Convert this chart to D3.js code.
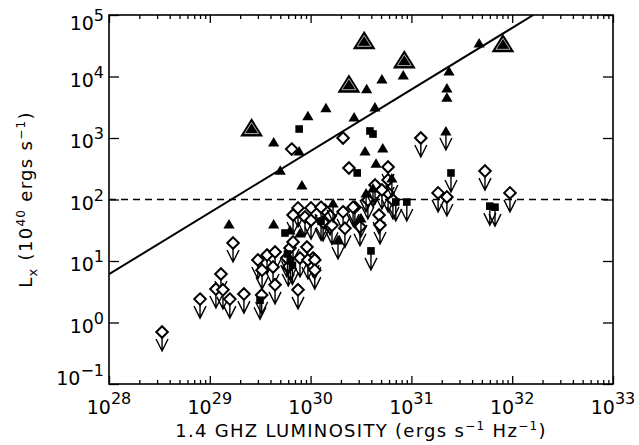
<!DOCTYPE html>
<html>
<head>
<meta charset="utf-8">
<script src="https://cdn.jsdelivr.net/npm/d3@7"></script>
<style>
body { margin: 0; background: #fff; }
svg { display: block; font-family: "DejaVu Sans", sans-serif; }
</style>
</head>
<body>
<div id="chart"></div>
<script>
// [1.4 GHz luminosity (erg/s/Hz), Lx (1e40 erg/s)]
const bigTriangles = [
    [2.6e29, 1450], [2.4e30, 7500], [3.4e30, 3.8e4], [8.5e30, 1.85e4], [8.1e31, 3.4e4]
];
const triangles = [
    [4.7e31, 3.5e4], [2.36e31, 1.23e4], [2.25e31, 6500], [2.25e31, 4600], [5.1e30, 9100],
    [8.3e30, 1.06e4], [3.6e30, 6300], [4.35e30, 3200], [2.7e30, 2200], [1.42e30, 3100],
    [9.4e29, 2300], [4.3e29, 860], [7.7e29, 615], [5.0e29, 300], [8.2e29, 172],
    [3.47e30, 615], [5.2e30, 690], [4.46e30, 390], [1.55e29, 40], [4.3e29, 40],
    [7.85e29, 28.5], [6.25e29, 32]
];
const triangleLimits = [
    [2.2e31, 1300], [1.67e30, 88], [3.55e30, 128], [4.16e30, 154], [6.4e30, 224],
    [1.87e30, 22], [3.16e30, 50]
];
const squares = [
    [7.7e29, 1400], [3.88e30, 1300], [4.16e30, 1160], [2.9e30, 270], [5.57e29, 28.5]
];
const squareLimits = [
    [2.47e31, 270], [6.0e31, 78], [6.75e31, 75], [9.0e30, 91], [7.0e30, 91],
    [3.97e30, 14.6], [3.15e29, 2.3], [5.9e29, 13], [6.3e29, 10], [6.6e29, 8.5], [1.27e30, 44]
];
const diamonds = [
    [6.5e29, 660], [2.1e30, 1000], [2.4e30, 325]
];
const diamondLimits = [
    [1.24e31, 1000], [5.37e31, 290], [9.5e31, 128], [1.84e31, 128], [2.25e31, 110],
    [5.87e30, 338], [5.87e30, 208], [4.36e30, 172], [5.87e30, 128], [6.56e30, 98],
    [2.75e30, 75], [2.1e30, 63], [1.39e30, 67], [4.78e30, 56], [2.19e30, 34],
    [1.33e30, 43], [7.5e29, 73], [1.01e30, 73], [8.8e29, 52], [6.7e29, 56],
    [9.2e29, 16.9], [1.06e30, 11.2], [6.25e29, 16.3], [6.7e29, 20.4], [5.8e29, 11.2],
    [6.0e29, 8.0], [3.0e29, 10.4], [3.7e29, 12.5], [4.44e29, 14], [3.3e29, 7.1],
    [4.24e29, 8.0], [7.85e29, 11.2], [9.4e29, 10.4], [1.1e30, 10.4], [1.1e30, 7.1],
    [4.44e29, 4.1], [7.5e29, 3.4], [1.7e29, 19.6], [1.29e29, 6.15], [1.15e29, 3.5],
    [1.35e29, 3.4], [8.0e28, 2.4], [1.58e29, 2.4], [2.18e29, 2.9], [3.36e28, 0.70],
    [3.27e29, 2.8], [1.56e30, 54], [1.27e30, 75], [2.64e30, 75], [3.7e30, 98],
    [5.1e30, 143], [1.01e30, 46], [1.63e30, 38], [3.09e30, 36], [4.88e30, 38.5]
];
const fitLine = [[1e28, 6.1], [1.62e32, 1e5]];
const thresholdLx = 100;

const xMajor = [28, 29, 30, 31, 32, 33];
const yMajor = [-1, 0, 1, 2, 3, 4, 5];

const width = 639, height = 445;
const plot = { left: 109, right: 613, top: 15, bottom: 384 };

const x = d3.scaleLog().domain([1e28, 1e33]).range([plot.left, plot.right]);
const y = d3.scaleLog().domain([0.1, 1e5]).range([plot.bottom, plot.top]);

const svg = d3.select("#chart").append("svg")
    .attr("width", width)
    .attr("height", height);

// minor ticks for x
const xMinor = [];
for (let e = 28; e < 33; e++) for (let k = 2; k <= 9; k++) xMinor.push(k * Math.pow(10, e));

function tickAxis(axis) {
    return g => { g.call(axis); g.select(".domain").remove(); g.selectAll("line").attr("stroke", "#000").attr("stroke-width", 1.3); };
}

svg.append("g").attr("transform", `translate(0,${plot.bottom})`)
    .call(tickAxis(d3.axisBottom(x).tickValues(xMajor.map(e => Math.pow(10, e))).tickSize(-8).tickFormat("")));
svg.append("g").attr("transform", `translate(0,${plot.bottom})`)
    .call(tickAxis(d3.axisBottom(x).tickValues(xMinor).tickSize(-4).tickFormat("")));
svg.append("g").attr("transform", `translate(0,${plot.top})`)
    .call(tickAxis(d3.axisTop(x).tickValues(xMajor.map(e => Math.pow(10, e))).tickSize(-8).tickFormat("")));
svg.append("g").attr("transform", `translate(0,${plot.top})`)
    .call(tickAxis(d3.axisTop(x).tickValues(xMinor).tickSize(-4).tickFormat("")));
svg.append("g").attr("transform", `translate(${plot.left},0)`)
    .call(tickAxis(d3.axisLeft(y).tickValues(yMajor.map(e => Math.pow(10, e))).tickSize(-10).tickFormat("")));
svg.append("g").attr("transform", `translate(${plot.right},0)`)
    .call(tickAxis(d3.axisRight(y).tickValues(yMajor.map(e => Math.pow(10, e))).tickSize(-10).tickFormat("")));

svg.append("rect")
    .attr("x", plot.left).attr("y", plot.top)
    .attr("width", plot.right - plot.left).attr("height", plot.bottom - plot.top)
    .attr("fill", "none").attr("stroke", "#000").attr("stroke-width", 1.6);

// tick labels
svg.append("g").selectAll("text").data(xMajor).join("text")
    .attr("x", e => x(Math.pow(10, e)))
    .attr("y", plot.bottom + 30)
    .attr("text-anchor", "middle")
    .attr("font-size", 19)
    .each(function (e) {
        const t = d3.select(this);
        t.append("tspan").text("10");
        t.append("tspan").attr("dy", -10).attr("font-size", 16).text(e);
    });

svg.append("g").selectAll("text").data(yMajor).join("text")
    .attr("x", 104)
    .attr("y", e => {
        const c = Math.min(Math.max(y(Math.pow(10, e)) + 3, plot.top + 8), plot.bottom - 6);
        return c + 7;
    })
    .attr("text-anchor", "end")
    .attr("font-size", 19)
    .each(function (e) {
        const t = d3.select(this);
        t.append("tspan").text("10");
        t.append("tspan").attr("dy", -9).attr("font-size", 16).text(e < 0 ? "\u2212" + (-e) : e);
    });

// axis titles
const xt = svg.append("text")
    .attr("x", (plot.left + plot.right) / 2)
    .attr("y", 437)
    .attr("text-anchor", "middle")
    .attr("font-size", 18)
    .attr("letter-spacing", 1.3);
xt.append("tspan").text("1.4 GHZ LUMINOSITY (ergs s");
xt.append("tspan").attr("dy", -7).attr("font-size", 12).text("\u22121");
xt.append("tspan").attr("dy", 7).text(" Hz");
xt.append("tspan").attr("dy", -7).attr("font-size", 12).text("\u22121");
xt.append("tspan").attr("dy", 7).text(")");

const yt = svg.append("text")
    .attr("transform", `translate(32,${(plot.top + plot.bottom) / 2}) rotate(-90)`)
    .attr("text-anchor", "middle")
    .attr("font-size", 18)
    .attr("letter-spacing", 1.3);
yt.append("tspan").text("L");
yt.append("tspan").attr("dy", 5).attr("font-size", 13).text("x");
yt.append("tspan").attr("dy", -5).text(" (10");
yt.append("tspan").attr("dy", -7).attr("font-size", 12).text("40");
yt.append("tspan").attr("dy", 7).text(" ergs s");
yt.append("tspan").attr("dy", -7).attr("font-size", 12).text("\u22121");
yt.append("tspan").attr("dy", 7).text(")");

// reference lines
svg.append("clipPath").attr("id", "plotclip").append("rect")
    .attr("x", plot.left).attr("y", plot.top)
    .attr("width", plot.right - plot.left).attr("height", plot.bottom - plot.top);

svg.append("line")
    .attr("x1", plot.left).attr("x2", plot.right)
    .attr("y1", y(thresholdLx)).attr("y2", y(thresholdLx))
    .attr("stroke", "#000").attr("stroke-width", 1.7)
    .attr("stroke-dasharray", "7,5");

svg.append("path")
    .datum(fitLine)
    .attr("clip-path", "url(#plotclip)")
    .attr("d", d3.line().x(d => x(d[0])).y(d => y(d[1])))
    .attr("fill", "none").attr("stroke", "#000").attr("stroke-width", 2);

// markers
const pts = svg.append("g");

function arrows(data) {
    const g = pts.append("g").attr("fill", "none").attr("stroke", "#000").attr("stroke-width", 1.4);
    g.selectAll("path").data(data).join("path")
        .attr("transform", d => `translate(${x(d[0])},${y(d[1])})`)
        .attr("d", "M0,0V19M-6,7L0,19L6,7");
}

arrows(diamondLimits);
pts.append("g").selectAll("path").data(diamondLimits.concat(diamonds)).join("path")
    .attr("transform", d => `translate(${x(d[0])},${y(d[1])})`)
    .attr("d", "M0,-5.8L5.8,0L0,5.8L-5.8,0Z")
    .attr("fill", "#fff").attr("stroke", "#000").attr("stroke-width", 2);

arrows(squareLimits);
pts.append("g").selectAll("rect").data(squares.concat(squareLimits)).join("rect")
    .attr("x", d => x(d[0]) - 3.8).attr("y", d => y(d[1]) - 3.8)
    .attr("width", 7.6).attr("height", 7.6)
    .attr("fill", "#000");

arrows(triangleLimits);
pts.append("g").selectAll("path").data(triangles.concat(triangleLimits)).join("path")
    .attr("transform", d => `translate(${x(d[0])},${y(d[1])})`)
    .attr("d", "M0,-5L5.6,4.5L-5.6,4.5Z")
    .attr("fill", "#000");

const big = pts.append("g").selectAll("g").data(bigTriangles).join("g")
    .attr("transform", d => `translate(${x(d[0])},${y(d[1])})`);
big.append("path").attr("d", "M0,-10L11.5,8.5L-11.5,8.5Z").attr("fill", "#000");
big.append("path").attr("d", "M0,-5.5L7,5.5L-7,5.5Z")
    .attr("fill", "none").attr("stroke", "#aaa").attr("stroke-width", 1);
</script>
</body>
</html>
